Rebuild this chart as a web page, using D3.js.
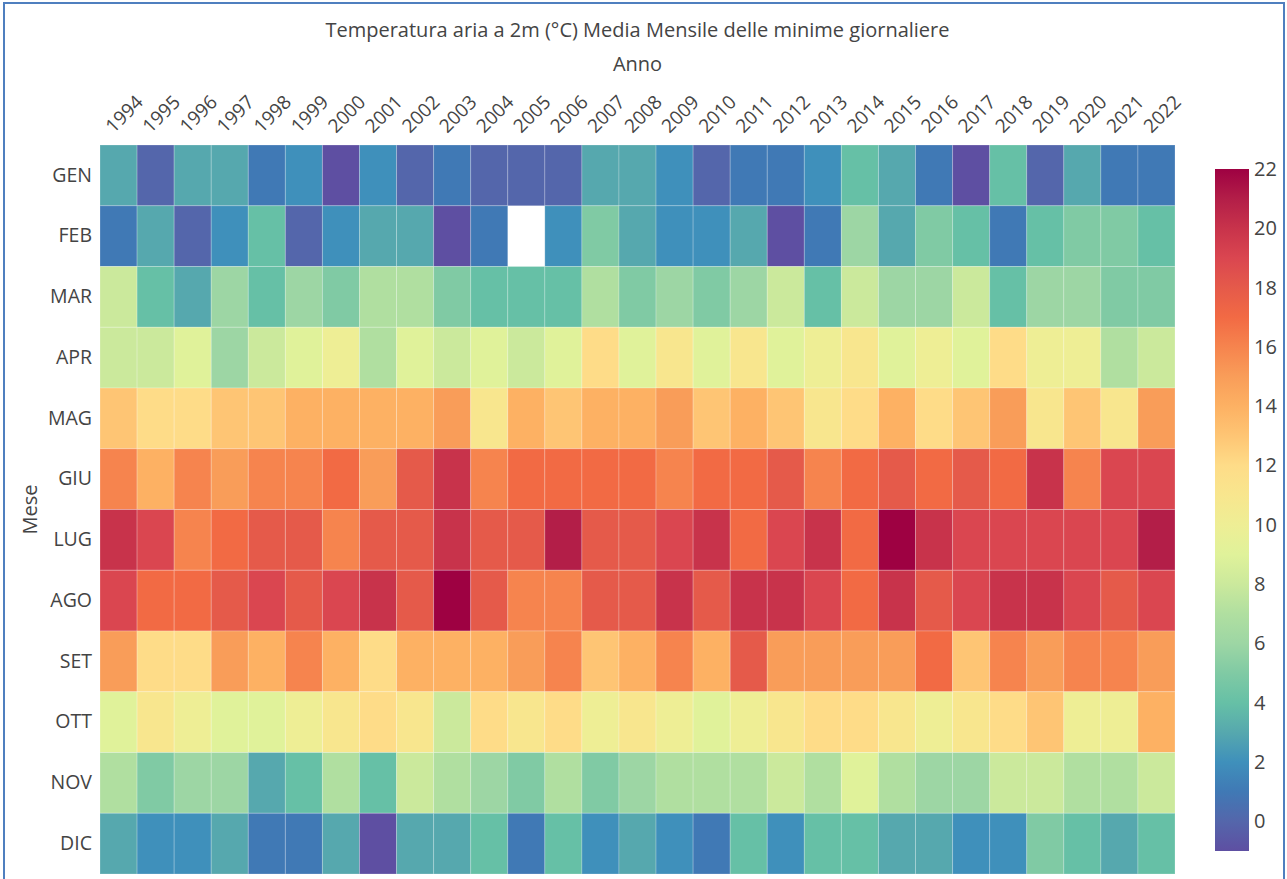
<!DOCTYPE html>
<html>
<head>
<meta charset="utf-8">
<script src="https://cdn.jsdelivr.net/npm/d3@7"></script>
<style>
  body { margin: 0; background: #fff; }
  svg { display: block; font-family: "Open Sans", sans-serif; }
</style>
</head>
<body>
<div id="chart-area"></div>
<script>
// heatmap temperature minime
const anni = d3.range(1994, 2023).map(String)
const mesi = ["GEN","FEB","MAR","APR","MAG","GIU","LUG","AGO","SET","OTT","NOV","DIC"]

const gen = [3,0,3,3,1,2,-1,2,0,1,0,0,0,3,3,2,0,1,1,2,4,3,1,-1,4,0,3,1,1]
const feb = [1,3,0,2,4,0,2,3,3,-1,1,null,2,5,3,2,2,3,-1,1,6,3,5,4,1,4,5,5,4]
const mar = [8,4,3,6,4,6,5,7,7,5,4,4,4,7,5,6,5,6,8,4,8,6,6,8,4,6,6,5,5]
const apr = [8,8,9,6,8,9,10,7,9,8,9,8,9,12,9,11,9,11,9,10,11,9,10,9,12,10,10,7,8]
const mag = [13,12,12,13,13,14,14,14,14,15,11,14,13,14,14,15,13,14,13,11,12,14,12,13,15,11,13,11,15]
const giu = [16,14,16,15,16,16,17,15,18,20,16,17,17,17,17,16,17,17,18,16,17,18,17,18,17,20,16,19,19]
const lug = [20,19,16,17,18,18,16,18,18,20,18,18,21,18,18,19,20,17,19,20,17,22,20,19,19,19,19,19,21]
const ago = [19,17,17,18,19,18,19,20,18,22,18,16,16,18,18,20,18,20,20,19,17,20,18,19,20,20,19,18,19]
const set = [15,12,12,15,14,16,14,12,14,14,14,15,16,13,14,16,14,18,15,15,15,15,17,13,16,15,16,16,15]
const ott = [9,11,10,9,9,10,11,12,11,8,12,11,12,10,11,10,9,10,11,12,12,11,10,11,12,13,10,10,14]
const nov = [7,5,6,6,3,4,7,4,8,7,6,5,7,5,6,7,7,7,8,7,9,7,6,6,8,8,7,7,8]
const dic = [3,2,2,3,1,1,3,-1,3,3,4,1,4,2,3,2,1,4,2,4,4,3,3,2,2,5,4,3,4]

const righe = [gen, feb, mar, apr, mag, giu, lug, ago, set, ott, nov, dic]
const colorTicks = d3.range(0, 23, 2)

const zMin = -1, zMax = 22

// palette Spectral (invertita) come appare nel grafico
const palette = ["#5e4fa2","#5466ab","#4079b5","#3f90bb","#56a8ae","#66c0a6","#80caa4","#9dd6a4",
  "#b0dfa0","#cbe99c","#e0f29a","#eeee95","#f8e68e","#fedc88","#fec574","#fdb163","#f99d59",
  "#f6844e","#f26a44","#e55a4a","#da4650","#c8334b","#b31e48","#9e0142"]

const width = 1287, height = 879
const plot = { left: 100, right: 1175, top: 145, bottom: 874 }

const svg = d3.select("#chart-area").append("svg")
    .attr("width", width)
    .attr("height", height)

const color = d3.scaleLinear()
    .domain(d3.range(zMin, zMax + 1))
    .range(palette)
    .clamp(true)

const x = d3.scaleBand().domain(anni).range([plot.left, plot.right])
const y = d3.scaleBand().domain(mesi).range([plot.top, plot.bottom])

// celle
let celle = []
righe.forEach((r, i) => {
  r.forEach((v, j) => {
    if (v !== null) celle.push({ mese: mesi[i], anno: anni[j], valore: v })
  })
})

svg.append("g")
  .selectAll("rect")
  .data(celle)
  .join("rect")
    .attr("x", d => x(d.anno))
    .attr("y", d => y(d.mese))
    .attr("width", x.bandwidth())
    .attr("height", y.bandwidth())
    .attr("fill", d => color(d.valore))
    .attr("stroke", "rgba(255,255,255,0.22)")
    .attr("stroke-width", 1)

// asse x in alto
const xAxis = svg.append("g")
    .attr("transform", "translate(0," + plot.top + ")")
    .call(d3.axisTop(x).tickSize(0).tickPadding(0))
xAxis.select(".domain").remove()
xAxis.selectAll("text")
    .attr("fill", "#444")
    .style("font-size", "19px")
    .style("font-family", "Open Sans")
    .attr("text-anchor", "start")
    .attr("dy", null)
    .attr("y", 0)
    .attr("transform", "translate(-5,-11) rotate(-45)")

// asse y
const yAxis = svg.append("g")
    .attr("transform", "translate(" + plot.left + ",0)")
    .call(d3.axisLeft(y).tickSize(0).tickPadding(8))
yAxis.select(".domain").remove()
yAxis.selectAll("text")
    .attr("fill", "#444")
    .style("font-size", "19.5px")
    .style("font-family", "Open Sans")

// titoli
svg.append("text")
    .attr("x", (plot.left + plot.right) / 2)
    .attr("y", 37)
    .attr("text-anchor", "middle")
    .attr("fill", "#444")
    .style("font-size", "20px")
    .text("Temperatura aria a 2m (°C) Media Mensile delle minime giornaliere")

svg.append("text")
    .attr("x", (plot.left + plot.right) / 2)
    .attr("y", 71)
    .attr("text-anchor", "middle")
    .attr("fill", "#444")
    .style("font-size", "20px")
    .text("Anno")

svg.append("text")
    .attr("transform", "translate(37," + (plot.top + plot.bottom) / 2 + ") rotate(-90)")
    .attr("text-anchor", "middle")
    .attr("fill", "#444")
    .style("font-size", "20px")
    .text("Mese")

// colorbar
const cb = { x: 1215, w: 34, top: 169, bottom: 851 }
const cbScale = d3.scaleLinear().domain([zMin, zMax]).range([cb.bottom, cb.top])

const defs = svg.append("defs")
const grad = defs.append("linearGradient")
    .attr("id", "cbgrad")
    .attr("x1", 0).attr("y1", 1).attr("x2", 0).attr("y2", 0)
grad.selectAll("stop")
  .data(d3.range(zMin, zMax + 1))
  .join("stop")
    .attr("offset", d => (d - zMin) / (zMax - zMin))
    .attr("stop-color", d => color(d))

svg.append("rect")
    .attr("x", cb.x)
    .attr("y", cb.top)
    .attr("width", cb.w)
    .attr("height", cb.bottom - cb.top)
    .attr("fill", "url(#cbgrad)")

const cbAxis = svg.append("g")
    .attr("transform", "translate(" + (cb.x + cb.w) + ",0)")
    .call(d3.axisRight(cbScale).tickValues(colorTicks).tickSize(0).tickPadding(5))
cbAxis.select(".domain").remove()
cbAxis.selectAll("text")
    .attr("fill", "#444")
    .style("font-size", "20px")
    .style("font-family", "Open Sans")

// cornice blu
svg.append("rect")
    .attr("x", 4)
    .attr("y", 3)
    .attr("width", 1280)
    .attr("height", 920)
    .attr("fill", "none")
    .attr("stroke", "#4f7fbf")
    .attr("stroke-width", 2)
</script>
</body>
</html>
